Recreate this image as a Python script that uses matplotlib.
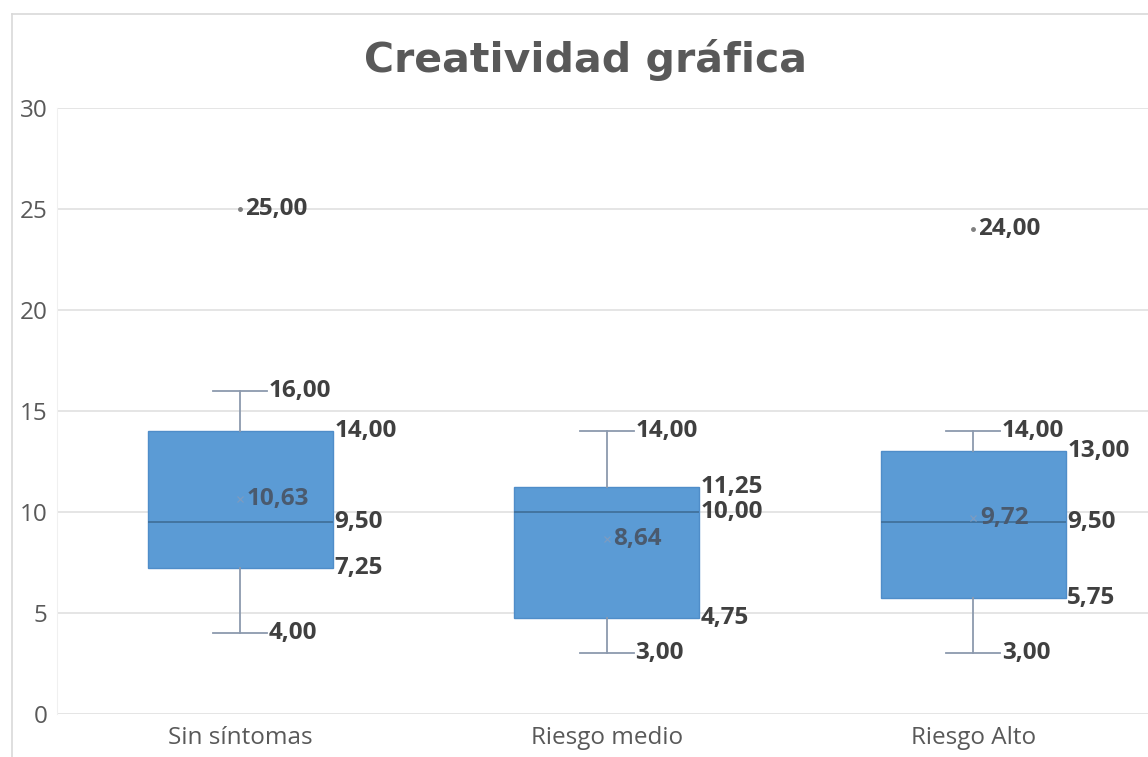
import matplotlib
matplotlib.use('Agg')
import matplotlib.pyplot as plt
from matplotlib.lines import Line2D

# Datos
categorias = ['Sin síntomas', 'Riesgo medio', 'Riesgo Alto']
minimos = [4.00, 3.00, 3.00]
q1 = [7.25, 4.75, 5.75]
medianas = [9.50, 10.00, 9.50]
q3 = [14.00, 11.25, 13.00]
maximos = [16.00, 14.00, 14.00]
medias = [10.63, 8.64, 9.72]
atipicos = [[25.00], [], [24.00]]
titulo = 'Creatividad gráfica'

AZUL = '#5B9BD5'
BORDE = '#4F8DC9'
BIGOTE = '#8C9AAE'
MEDIANA = '#41719C'
TEXTO = '#404040'
GRIS = '#595959'


def fmt(v: float) -> str:
    """Formato con coma decimal"""
    return f'{v:.2f}'.replace('.', ',')


fig = plt.figure(figsize=(11.48, 7.57), dpi=100)
ax = fig.add_axes([57 / 1148, 43 / 757, 1099.5 / 1148, 606 / 757])

# marco del gráfico
fig.add_artist(Line2D([12 / 1148, 12 / 1148], [0, 1 - 14 / 757],
                      transform=fig.transFigure, color='#D9D9D9', lw=1.2))
fig.add_artist(Line2D([12 / 1148, 1], [1 - 14 / 757, 1 - 14 / 757],
                      transform=fig.transFigure, color='#D9D9D9', lw=1.2))

stats = []
for i, cat in enumerate(categorias):
    stats.append({'label': cat, 'whislo': minimos[i], 'q1': q1[i],
                  'med': medianas[i], 'q3': q3[i], 'whishi': maximos[i],
                  'mean': medias[i], 'fliers': atipicos[i]})

pos = list(range(len(categorias)))
ancho = 0.505
ax.bxp(stats, positions=pos, widths=ancho, patch_artist=True,
       showmeans=True, showfliers=True,
       boxprops=dict(facecolor=AZUL, edgecolor=BORDE, linewidth=1),
       medianprops=dict(color=MEDIANA, linewidth=1.3),
       whiskerprops=dict(color=BIGOTE, linewidth=1.3),
       capprops=dict(color=BIGOTE, linewidth=1.3),
       capwidths=0.148,
       meanprops=dict(marker='x', markersize=4, markeredgecolor='#7F9BBF',
                      markeredgewidth=0.8),
       flierprops=dict(marker='o', markersize=2.5, markerfacecolor='#7F7F7F',
                       markeredgecolor='#7F7F7F'),
       zorder=3)

ax.set_xlim(-0.5, 2.5)
ax.set_ylim(0, 30)
ax.set_yticks([0, 5, 10, 15, 20, 25, 30])
ax.set_xticks(pos)
ax.set_xticklabels(categorias, fontsize=17.5, color=GRIS, family='Open Sans')
for lab in ax.get_yticklabels():
    lab.set_fontsize(17.5)
    lab.set_color(GRIS)
    lab.set_family('Open Sans')
ax.tick_params(length=0)
ax.tick_params(axis='x', pad=9)
ax.tick_params(axis='y', pad=7)
ax.grid(axis='y', color='#E3E3E3', linewidth=1.3, zorder=0)
for s in ['top', 'right', 'bottom']:
    ax.spines[s].set_visible(False)
ax.spines['left'].set_color('#F0F0F0')

etiqueta = dict(fontsize=17.5, fontweight='bold', color=TEXTO,
                family='Open Sans', va='center', ha='left', zorder=5)
for i in pos:
    # extremos de los bigotes
    for v in (minimos[i], maximos[i]):
        ax.text(i + 0.078, v, fmt(v), **etiqueta)
    # cuartiles y mediana junto al borde derecho de la caja
    for v in (q1[i], medianas[i], q3[i]):
        ax.text(i + ancho / 2 + 0.004, v, fmt(v), **etiqueta)
    # media
    ax.text(i + 0.018, medias[i], fmt(medias[i]),
            **{**etiqueta, 'color': '#4A5A6E'})
    # valores atípicos
    for v in atipicos[i]:
        ax.text(i + 0.012, v, fmt(v), **etiqueta)

fig.text(586 / 1148, 1 - 60 / 757, titulo, ha='center', va='center',
         fontsize=29.5, fontweight='bold', color=GRIS, family='DejaVu Sans')

fig.savefig('out.png', dpi=100, facecolor='white')
